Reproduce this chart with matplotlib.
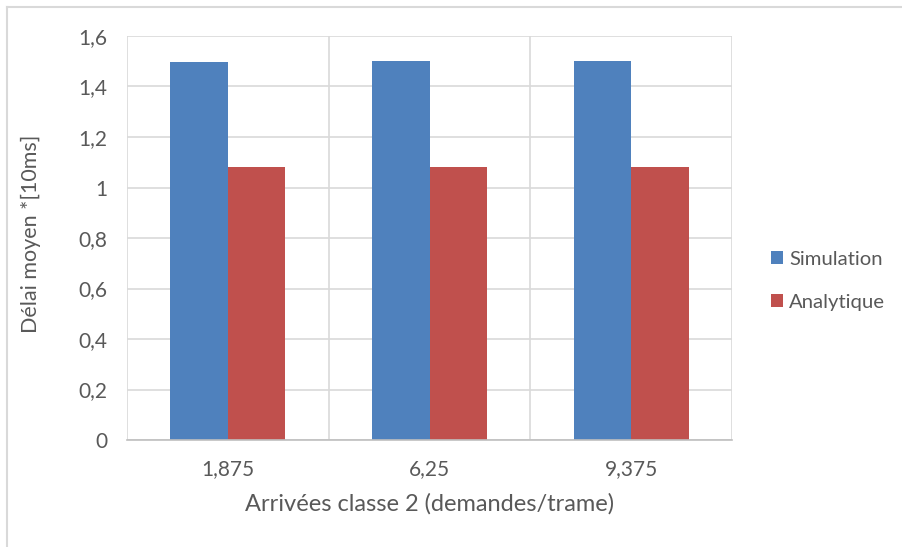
import matplotlib.pyplot as plt
import numpy as np
from matplotlib.ticker import FuncFormatter
from matplotlib.lines import Line2D

categories = ['1,875', '6,25', '9,375']
simulation = [1.497, 1.501, 1.501]
analytique = [1.081, 1.081, 1.081]
series_names = ['Simulation', 'Analytique']

blue = '#4F81BD'
red = '#C0504D'
grey_txt = '#595959'
grid_col = '#D9D9D9'

plt.rcParams['font.family'] = ['Lato', 'DejaVu Sans']

fig = plt.figure(figsize=(9.02, 5.47), dpi=100)
ax = fig.add_axes([127/902, 107/547, 605/902, 404/547])

x = np.arange(len(categories))
w = 1 / 3.5
ax.bar(x - w/2, simulation, w, color=blue, label=series_names[0], zorder=3)
ax.bar(x + w/2, analytique, w, color=red, label=series_names[1], zorder=3)

ax.set_xlim(-0.5, len(categories) - 0.5)
ax.set_ylim(0, 1.6)
ax.set_yticks(np.arange(0, 1.61, 0.2))
ax.yaxis.set_major_formatter(FuncFormatter(lambda v, p: ('%g' % round(v, 1)).replace('.', ',')))
ax.set_xticks(x)
ax.set_xticklabels(categories)

# gridlines: horizontal at ticks, vertical at category boundaries
ax.yaxis.grid(True, color=grid_col, linewidth=1.2, zorder=0)
for b in np.arange(-0.5, len(categories), 1.0):
    ax.axvline(b, color=grid_col, linewidth=1.2, zorder=0)

for s in ['top', 'right', 'left']:
    ax.spines[s].set_visible(False)
ax.spines['bottom'].set_color('#BFBFBF')
ax.spines['bottom'].set_linewidth(1.2)
ax.spines['bottom'].set_zorder(4)

ax.tick_params(axis='both', length=0, labelsize=15, colors=grey_txt)
ax.tick_params(axis='x', pad=14)
ax.tick_params(axis='y', pad=14)

ax.set_xlabel('Arrivées classe 2 (demandes/trame)', fontsize=17, color=grey_txt, labelpad=10)
ax.set_ylabel('Délai moyen *[10ms]', fontsize=15.5, color=grey_txt)
ax.yaxis.set_label_coords(-0.142, 0.51)

leg = ax.legend(loc='center left', bbox_to_anchor=(1.034, 0.394), frameon=False,
                fontsize=14.6, labelcolor=grey_txt, handlelength=0.6, handleheight=0.6,
                handletextpad=0.3, labelspacing=1.3)

# outer chart border (left and top visible)
fig.add_artist(Line2D([7/902, 7/902], [0, 1 - 7/547], color='#D9D9D9', linewidth=1.5))
fig.add_artist(Line2D([7/902, 1], [1 - 7/547, 1 - 7/547], color='#D9D9D9', linewidth=1.5))

fig.savefig('out.png', dpi=100)
